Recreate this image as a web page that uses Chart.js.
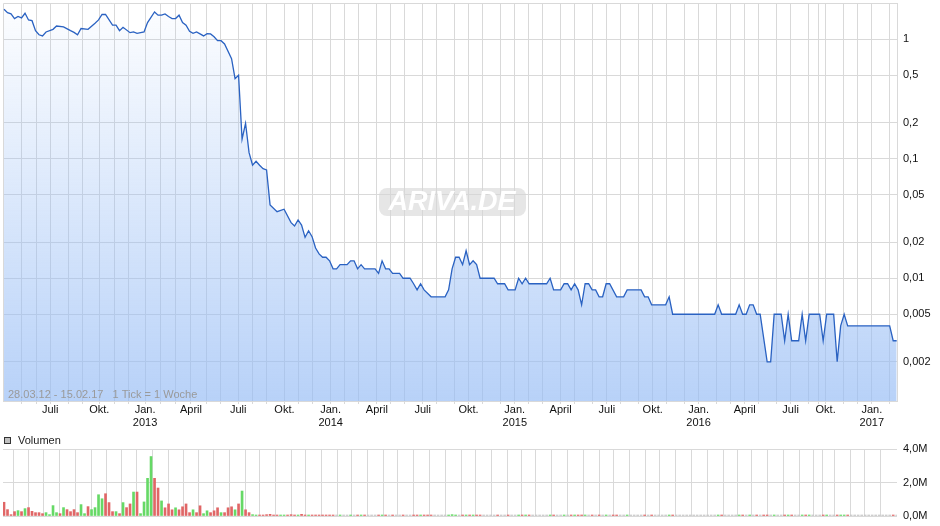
<!DOCTYPE html>
<html><head><meta charset="utf-8">
<script src="https://cdn.jsdelivr.net/npm/chart.js@4.4.1/dist/chart.umd.min.js"></script>
<style>
html,body{margin:0;padding:0;background:#fff;}
#wrap{position:relative;width:940px;height:526px;overflow:hidden;}
.box{position:absolute;left:0;}
</style></head><body>
<div id="wrap">
<div class="box" style="top:-17px;width:940px;height:449px"><canvas id="c1" width="940" height="449"></canvas></div>
<div class="box" style="top:432px;width:940px;height:100px"><canvas id="c2" width="940" height="100"></canvas></div>
</div>
<script>
// ---------- DATA ----------
// weekly slots: slot 0 = 28.03.12, slot 255 = 15.02.17
const priceWeek = [0,1,2,3,4,5,6,7,8,9,10,11,12,14,15,17,19,20,21,22,24,26,27,28,29,31,32,33,34,36,37,38,40,41,43,44,45,46,47,48,49,50,51,52,53,54,55,56,57,58,59,60,61,62,63,65,66,67,68,69,70,71,72,73,74,75,76,78,80,82,83,84,85,86,87,88,89,90,91,92,93,94,95,96,98,99,100,101,102,103,106,107,108,109,110,111,113,114,116,117,118,119,120,122,126,127,128,129,130,131,132,133,134,135,136,140,141,143,144,146,147,148,149,150,155,156,157,159,160,161,162,163,164,165,166,167,168,169,170,171,172,173,175,177,178,182,183,184,185,189,190,191,203,204,205,209,210,211,212,213,214,215,216,218,219,220,222,223,224,225,227,228,229,230,233,234,235,237,238,239,240,241,253,254,255];
const priceValue = [1.78,1.67,1.63,1.49,1.55,1.51,1.65,1.45,1.43,1.18,1.09,1.066,1.15,1.21,1.29,1.27,1.18,1.14,1.09,1.23,1.21,1.36,1.45,1.61,1.61,1.31,1.31,1.18,1.26,1.135,1.15,1.12,1.15,1.38,1.69,1.59,1.59,1.63,1.55,1.49,1.49,1.59,1.38,1.31,1.167,1.12,1.15,1.108,1.066,1.114,1.108,1.05,0.973,0.973,0.913,0.688,0.468,0.50,0.146,0.198,0.1125,0.0884,0.0953,0.0883,0.0826,0.0806,0.0411,0.0361,0.0378,0.0292,0.0274,0.0308,0.0279,0.022,0.025,0.0223,0.0179,0.016,0.015,0.015,0.014,0.012,0.012,0.013,0.013,0.014,0.014,0.012,0.013,0.012,0.012,0.011,0.014,0.012,0.012,0.011,0.011,0.010,0.010,0.009,0.008,0.009,0.008,0.007,0.007,0.008,0.012,0.015,0.015,0.013,0.017,0.013,0.014,0.013,0.010,0.010,0.009,0.009,0.008,0.008,0.010,0.009,0.010,0.009,0.009,0.010,0.008,0.008,0.009,0.009,0.008,0.009,0.008,0.006,0.009,0.009,0.008,0.008,0.007,0.007,0.009,0.009,0.007,0.007,0.008,0.008,0.007,0.007,0.006,0.006,0.007,0.005,0.005,0.006,0.005,0.005,0.006,0.005,0.005,0.006,0.006,0.005,0.005,0.002,0.002,0.005,0.005,0.003,0.005,0.003,0.003,0.005,0.003,0.005,0.005,0.003,0.005,0.005,0.002,0.004,0.005,0.004,0.004,0.003,0.003];

// weekly volume in millions, slot 0..255
const volumeM = [
0.82,0.38,0.08,0.26,0.32,0.26,0.44,0.50,0.28,0.20,
0.20,0.14,0.20,0.08,0.62,0.20,0.14,0.50,0.38,0.26,
0.38,0.20,0.68,0.14,0.56,0.38,0.50,1.27,1.03,1.33,
0.80,0.26,0.26,0.14,0.80,0.50,0.72,1.43,1.43,0.14,
0.84,2.25,3.55,2.25,1.67,0.90,0.49,0.72,0.37,0.49,
0.37,0.55,0.72,0.20,0.37,0.20,0.61,0.14,0.31,0.20,
0.31,0.49,0.20,0.20,0.49,0.55,0.37,0.72,1.49,0.37,
0.20,0.08,0.05,0.06,0.06,0.08,0.10,0.06,0.06,0.04,
0.05,0.06,0.08,0.06,0.04,0.10,0.06,0.05,0.06,0.04,
0.06,0.05,0.04,0.06,0.06,0,0.04,0,0,0.05,
0,0.04,0.05,0.04,0,0,0,0.04,0.06,0.05,
0,0.04,0,0,0.05,0,0,0.04,0.05,0.04,
0.04,0.05,0.04,0,0,0,0,0.05,0.08,0.06,
0,0.05,0.06,0.05,0.04,0.05,0.06,0,0,0,
0,0.05,0,0,0.04,0,0,0.05,0.04,0.04,
0.05,0,0,0,0,0,0.04,0.05,0,0,
0.04,0,0.04,0.04,0.05,0.06,0.05,0,0.04,0,
0.05,0,0.04,0,0.05,0.05,0,0,0.04,0,
0,0,0,0.05,0,0.04,0,0,0,0,
0.04,0.05,0,0,0,0,0,0,0,0,
0,0,0,0,0.04,0.05,0,0,0,0,
0.04,0.04,0,0.04,0,0.05,0,0.05,0.05,0,
0.04,0,0,0.05,0.04,0.05,0,0,0.04,0.05,
0.04,0,0,0,0.05,0.04,0,0,0.05,0.04,
0.04,0.05,0,0,0,0,0,0,0,0,
0,0,0,0,0.05,0];
// week direction: g = up (green), r = down (red), n = unchanged (grey)
const volumeDir =
"rrrrgrgrrr"+"rrggggrgrr"+"rrggrggggr"+"rrgrgrrgrg"+"gggrrgrrrg"+"rrrrgrrggr"+"rrgrrrgrgr"+"rg"+
"grrrrrrg"+"grrrgrrgrr"+"rrrrrngnng"+"nrgrnnnrgr"+"nrnnrnnrrg"+"rrrnnnnggg"+"nrgrgrrnnn"+
"nrnnrnngrg"+"rnnnnngrnn"+"gnrgrrgnrn"+"rngnrrnngn"+"nnnrnrnnnn"+"grnnnnnnnn"+"nnnngrnnnn"+
"grngnrnrrn"+"gnnrgrnngr"+"gnnnrgnnrg"+"grnnnnnnnn"+"nnnnrn";

// month starts (week slot) May 2012 .. Feb 2017 and their labels
const monthStartWeek = [4.9,9.2,13.2,18.4,22.5,27.2,31.5,35.6,40.3,44.7,49.0,53.4,57.9,61.8,66.9,70.9,75.0,80.1,84.2,88.2,93.3,97.3,101.3,106.5,110.5,114.5,119.6,123.6,128.7,132.7,136.7,141.9,145.9,149.9,153.9,159.0,163.0,168.2,172.2,176.2,181.3,185.3,189.3,194.4,198.4,203.6,207.6,211.6,215.6,220.7,224.7,229.9,232.7,234.7,239.9,243.9,247.9,253.0];
const monthLabels = ['','','Juli','','','Okt.','','',['Jan.','2013'],'','','April','','','Juli','','','Okt.','','',
['Jan.','2014'],'','','April','','','Juli','','','Okt.','','',['Jan.','2015'],'','','April','','','Juli','','','Okt.','','',
['Jan.','2016'],'','','April','','','Juli','','','Okt.','','',['Jan.','2017'],''];
const priceTicks = [0.002,0.005,0.01,0.02,0.05,0.1,0.2,0.5,1];
const volumeTicks = [0,2,4];
const rangeText = '28.03.12 - 15.02.17   1 Tick = 1 Woche';

// ---------- STYLE ----------
const FONT = "'Liberation Sans', Arial, sans-serif";
const GRID = '#d9d9d9';
const X_MIN = -0.29, X_MAX = 255.09;
const dirColor = {g:'#66d966', r:'#e06666', n:'#c4c4c4'};

const pricePoints = priceWeek.map((w,i)=>({x:w, y:priceValue[i]}));
const volPoints = volumeM.map((v,i)=>({x:i, y:v}));

const monthTicks = s => { s.ticks = monthStartWeek.map(v=>({value:v})); };

const mainDeco = {
  id:'mainDeco',
  beforeDatasetsDraw(chart){
    const {ctx, chartArea:a} = chart;
    ctx.save();
    ctx.strokeStyle = GRID; ctx.lineWidth = 1;
    ctx.beginPath();
    ctx.moveTo(a.left+0.5, a.bottom); ctx.lineTo(a.left+0.5, a.top+0.5); ctx.lineTo(a.right, a.top+0.5);
    ctx.stroke();
    // watermark
    const cx = a.left + 449, cy = a.top + 199;
    ctx.fillStyle = 'rgba(214,214,214,0.6)';
    ctx.beginPath();
    if (ctx.roundRect) ctx.roundRect(cx-73, cy-14, 147, 28, 8); else ctx.rect(cx-73, cy-14, 147, 28);
    ctx.fill();
    ctx.fillStyle = '#ffffff';
    ctx.font = "italic bold 27px " + FONT;
    ctx.textAlign = 'center'; ctx.textBaseline = 'middle';
    ctx.fillText('ARIVA.DE', cx, cy+1);
    ctx.restore();
  },
  afterDatasetsDraw(chart){
    const {ctx, chartArea:a} = chart;
    ctx.save();
    ctx.fillStyle = '#9a9a9a';
    ctx.font = "11px " + FONT;
    ctx.textAlign = 'left'; ctx.textBaseline = 'middle';
    ctx.fillText(rangeText, a.left + 5, a.bottom - 6);
    ctx.restore();
  }
};

new Chart(document.getElementById('c1'), {
  type:'line',
  data:{ datasets:[{
    data: pricePoints,
    borderColor:'#2a62c2',
    borderWidth:1.3,
    pointRadius:0,
    tension:0,
    fill:'start',
    backgroundColor: c => {
      const a = c.chart.chartArea; if(!a) return 'rgba(0,0,0,0)';
      const g = c.chart.ctx.createLinearGradient(0,a.top,0,a.bottom);
      g.addColorStop(0,'rgba(150,188,245,0.02)');
      g.addColorStop(1,'rgba(150,188,245,0.68)');
      return g;
    }
  }]},
  options:{
    responsive:false, animation:false, devicePixelRatio:1,
    layout:{ padding:{left:3, top:20, right:0, bottom:0} },
    plugins:{ legend:{display:false}, tooltip:{enabled:false} },
    scales:{
      x:{ type:'linear', min:X_MIN, max:X_MAX,
        afterBuildTicks: monthTicks,
        afterFit: s => { s.height = 31; },
        grid:{ color:GRID, tickLength:3, tickColor:GRID },
        border:{ color:GRID },
        ticks:{ autoSkip:false, maxRotation:0, minRotation:0, padding:0, color:'#111',
          font:{family:FONT, size:11, lineHeight:1.13},
          callback:(v,i)=>monthLabels[i] }
      },
      y:{ type:'logarithmic', position:'right', min:0.00094, max:2.01,
        afterBuildTicks: s => { s.ticks = priceTicks.map(v=>({value:v})); },
        afterFit: s => { s.width = 43; },
        grid:{ color:GRID, drawTicks:false },
        border:{ color:GRID },
        ticks:{ padding:6, color:'#111', font:{family:FONT, size:11},
          callback: v => String(v).replace('.', ',') }
      }
    }
  },
  plugins:[mainDeco]
});

const volDeco = {
  id:'volDeco',
  afterDraw(chart){
    const {ctx} = chart;
    ctx.save();
    ctx.fillStyle = '#c0c0c0'; ctx.fillRect(4,5,7,7);
    ctx.strokeStyle = '#333'; ctx.lineWidth = 1; ctx.strokeRect(4.5,5.5,6,6);
    ctx.fillStyle = '#222'; ctx.font = "11px " + FONT;
    ctx.textAlign = 'left'; ctx.textBaseline = 'middle';
    ctx.fillText('Volumen', 18, 8.5);
    ctx.restore();
  }
};

new Chart(document.getElementById('c2'), {
  type:'bar',
  data:{ datasets:[{
    data: volPoints,
    backgroundColor: volumeDir.split('').map(d=>dirColor[d]),
    barThickness:2,
    borderWidth:0,
    minBarLength:1
  }]},
  options:{
    responsive:false, animation:false, devicePixelRatio:1,
    layout:{ padding:{left:3, top:17, right:0, bottom:16} },
    plugins:{ legend:{display:false}, tooltip:{enabled:false} },
    scales:{
      x:{ type:'linear', min:X_MIN, max:X_MAX, offset:false,
        afterBuildTicks: monthTicks,
        afterFit: s => { s.height = 0; },
        grid:{ color:GRID, drawTicks:false },
        border:{ display:false },
        ticks:{ display:false }
      },
      y:{ position:'right', min:0, max:4,
        afterBuildTicks: s => { s.ticks = volumeTicks.map(v=>({value:v})); },
        afterFit: s => { s.width = 43; },
        grid:{ color:GRID, drawTicks:false },
        border:{ display:false },
        ticks:{ padding:6, color:'#111', font:{family:FONT, size:11},
          callback: v => v.toFixed(1).replace('.', ',') + 'M' }
      }
    }
  },
  plugins:[volDeco]
});
</script>
</body></html>
